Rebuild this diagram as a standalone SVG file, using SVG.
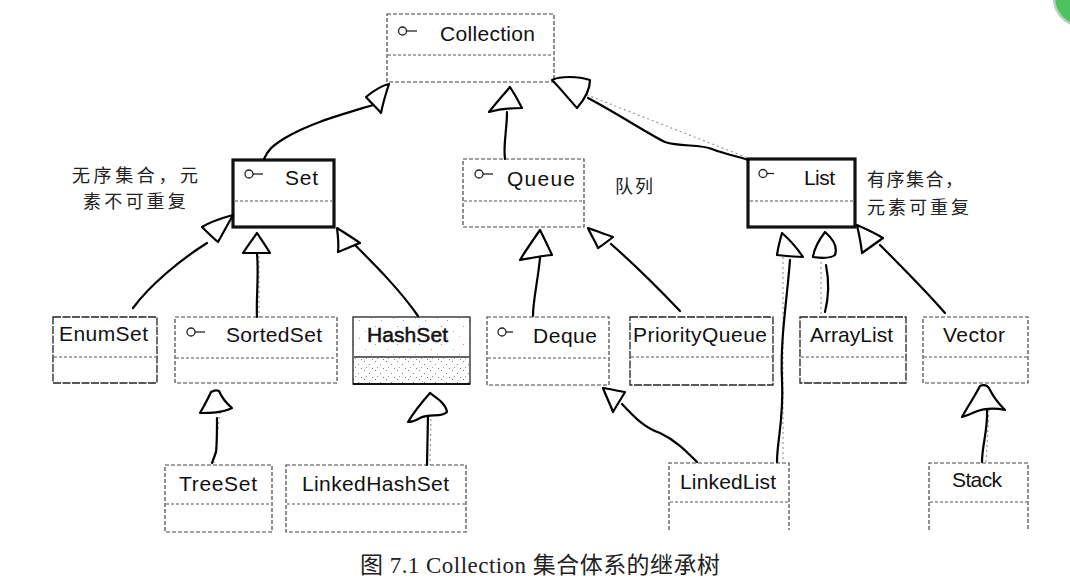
<svg xmlns="http://www.w3.org/2000/svg" width="1070" height="586" viewBox="0 0 1070 586">
<defs>
<pattern id="speck" width="22" height="18" patternUnits="userSpaceOnUse">
<rect x="1" y="2" width="1" height="1" fill="#999"/>
<rect x="13" y="7" width="1" height="1" fill="#aaa"/>
<rect x="7" y="14" width="1" height="1" fill="#999"/>
<rect x="19" y="12" width="1" height="1" fill="#bbb"/>
</pattern>
<pattern id="speck2" width="11" height="9" patternUnits="userSpaceOnUse">
<rect x="1" y="1" width="1" height="1" fill="#777"/>
<rect x="6" y="4" width="1" height="1" fill="#888"/>
<rect x="3" y="7" width="1" height="1" fill="#999"/>
<rect x="9" y="8" width="1" height="1" fill="#777"/>
</pattern>
</defs>
<style>
.box{fill:none;stroke:#444;stroke-width:1.2;stroke-dasharray:4 2}
.dark{fill:none;stroke:#222;stroke-width:1.3;stroke-dasharray:8 1.5}
.bold{fill:none;stroke:#111;stroke-width:3.2}
.div{stroke:#555;stroke-width:1.1;stroke-dasharray:3 2;fill:none}
.lbl{font-family:"Liberation Sans",Arial,sans-serif;font-size:21px;fill:#111}
.cn{font-family:"Noto Sans CJK SC",sans-serif;font-size:18px;fill:#222}
.icon{fill:none;stroke:#222;stroke-width:1.3}
.line{fill:none;stroke:#000;stroke-width:2.2;stroke-linecap:round;stroke-linejoin:round}
.head{fill:#fff;stroke:#000;stroke-width:2.2;stroke-linejoin:round}
.orig{fill:none;stroke:#999;stroke-width:1.2;stroke-dasharray:2 3}
</style>
<rect width="1070" height="586" fill="#fff"/>

<g id="Collection">
<rect class="box" x="387" y="14" width="167" height="68"/>
<line class="div" x1="388" y1="55" x2="553" y2="55"/>
<circle class="icon" cx="402.5" cy="31" r="4"/><line class="icon" x1="406.5" y1="31" x2="417" y2="31"/>
<text class="lbl" x="440" y="41" textLength="95">Collection</text>
</g>

<g id="Set">
<rect class="bold" x="233" y="160" width="101" height="67"/>
<line class="div" x1="235" y1="201" x2="332" y2="201"/>
<circle class="icon" cx="249" cy="174" r="4"/><line class="icon" x1="253" y1="174" x2="263" y2="174"/>
<text class="lbl" x="285" y="185" textLength="33">Set</text>
</g>

<g id="Queue">
<rect class="box" x="463" y="159" width="121" height="68"/>
<line class="div" x1="464" y1="201" x2="583" y2="201"/>
<circle class="icon" cx="479" cy="174" r="4"/><line class="icon" x1="483" y1="174" x2="493" y2="174"/>
<text class="lbl" x="507" y="186" textLength="68">Queue</text>
</g>

<g id="List">
<rect class="bold" x="748" y="159" width="107" height="68"/>
<line class="div" x1="750" y1="201" x2="853" y2="201"/>
<circle class="icon" cx="763" cy="173.5" r="4"/><line class="icon" x1="767" y1="173.5" x2="774" y2="173.5"/>
<text class="lbl" x="804" y="185" textLength="31">List</text>
</g>

<g id="EnumSet">
<rect class="dark" x="53" y="317" width="104" height="66"/>
<line class="div" x1="54" y1="357" x2="156" y2="357"/>
<text class="lbl" x="59" y="341" textLength="89">EnumSet</text>
</g>

<g id="SortedSet">
<rect class="box" x="175" y="317" width="162" height="66"/>
<line class="div" x1="176" y1="358" x2="336" y2="358"/>
<circle class="icon" cx="191" cy="332" r="4"/><line class="icon" x1="195" y1="332" x2="205" y2="332"/>
<text class="lbl" x="226" y="342" textLength="96">SortedSet</text>
</g>

<g id="HashSet">
<rect x="353" y="317" width="117" height="40" fill="url(#speck)"/>
<rect x="353" y="357" width="117" height="27" fill="url(#speck2)"/>
<rect x="353" y="317" width="117" height="67" fill="none" stroke="#222" stroke-width="1.3"/>
<line x1="353" y1="384" x2="470" y2="384" stroke="#111" stroke-width="2.2"/>
<line x1="354" y1="357" x2="469" y2="357" stroke="#333" stroke-width="1.3"/>
<text class="lbl" x="367" y="342" textLength="81" style="stroke:#111;stroke-width:0.5">HashSet</text>
</g>

<g id="Deque">
<rect class="box" x="487" y="317" width="122" height="68"/>
<line class="div" x1="488" y1="358" x2="608" y2="358"/>
<circle class="icon" cx="502" cy="332" r="4"/><line class="icon" x1="506" y1="332" x2="513" y2="332"/>
<text class="lbl" x="533" y="343" textLength="64">Deque</text>
</g>

<g id="PriorityQueue">
<rect class="dark" x="630" y="317" width="143" height="68"/>
<line class="div" x1="631" y1="357" x2="772" y2="357"/>
<text class="lbl" x="633" y="342" textLength="134">PriorityQueue</text>
</g>

<g id="ArrayList">
<rect class="dark" x="800" y="317" width="106" height="66"/>
<line class="div" x1="801" y1="357" x2="905" y2="357"/>
<text class="lbl" x="810" y="342" textLength="83">ArrayList</text>
</g>

<g id="Vector">
<rect class="box" x="923" y="317" width="105" height="66"/>
<line class="div" x1="924" y1="357" x2="1027" y2="357"/>
<text class="lbl" x="943" y="342" textLength="62">Vector</text>
</g>

<g id="TreeSet">
<rect class="box" x="165" y="465" width="107" height="67"/>
<line class="div" x1="166" y1="504" x2="271" y2="504"/>
<text class="lbl" x="179" y="491" textLength="78">TreeSet</text>
</g>

<g id="LinkedHashSet">
<rect class="box" x="286" y="465" width="180" height="67"/>
<line class="div" x1="287" y1="504" x2="465" y2="504"/>
<text class="lbl" x="302" y="491" textLength="147">LinkedHashSet</text>
</g>

<g id="LinkedList">
<path class="box" d="M669,530 V463 H789 V530"/>
<line class="div" x1="670" y1="502" x2="788" y2="502"/>
<text class="lbl" x="680" y="489" textLength="96">LinkedList</text>
</g>

<g id="Stack">
<path class="box" d="M929,530 V463 H1028 V530"/>
<line class="div" x1="930" y1="502" x2="1027" y2="502"/>
<text class="lbl" x="952" y="487" textLength="50">Stack</text>
</g>

<g id="connectors">
<path class="orig" d="M554,82 L748,158"/>
<path class="orig" d="M259,256 L259,317"/>
<path class="orig" d="M783,257 L783,462"/>
<path class="orig" d="M821,262 L821,317"/>
<path class="orig" d="M989,410 L986,462"/>
<path class="orig" d="M220,412 L214,463"/>
<path class="orig" d="M431,414 L430,465"/>

<path class="line" d="M264,159 C268,150 272,146 285,138 C310,123 340,115 373,105"/>
<path class="head" d="M389,84 C380,86 372,92 366,97 C372,104 377,108 381,113 C383,103 386,93 389,84 Z"/>

<path class="line" d="M507,112 C507,130 503,145 505,159"/>
<path class="head" d="M510,87 C503,95 495,104 489,112 C500,109 511,108 522,108 C518,100 514,93 510,87 Z"/>

<path class="line" d="M588,98 C620,115 650,135 665,142 C680,147 700,144 712,149 C727,155 738,156 748,160"/>
<path class="head" d="M552,80 C560,76 578,76 590,80 C590,90 584,100 577,108 C568,98 560,88 552,80 Z"/>

<path class="line" d="M133,308 C150,285 180,260 207,243"/>
<path class="head" d="M233,215 C222,218 210,222 202,227 C207,232 213,238 218,242 C223,233 228,224 233,215 Z"/>

<path class="line" d="M257,254 C259,275 256,300 257,317"/>
<path class="head" d="M257,233 C252,240 247,247 243,253 L270,253 C266,246 261,239 257,233 Z"/>

<path class="line" d="M356,246 C375,265 400,290 418,316"/>
<path class="head" d="M337,228 C345,233 353,238 360,243 C353,246 345,249 338,252 C339,244 338,236 337,228 Z"/>

<path class="line" d="M217,418 C217,430 217,445 216,452 L212,463"/>
<path class="head" d="M211,392 C214,390 217,390 219,391 C222,398 226,403 232,408 C222,413 210,413 200,413 C204,406 208,399 211,392 Z"/>

<path class="line" d="M428,415 L427,465"/>
<path class="head" d="M430,393 C437,398 446,404 447,412 C441,418 430,413 420,418 C415,421 410,422 408,422 C414,412 422,402 430,393 Z"/>

<path class="line" d="M540,258 C538,280 533,300 533,316"/>
<path class="head" d="M540,230 C533,240 526,250 520,260 C531,258 541,256 552,255 C548,246 544,238 540,230 Z"/>

<path class="line" d="M611,244 C635,265 660,290 680,311"/>
<path class="head" d="M588,228 C596,231 605,234 613,237 C608,241 603,245 598,248 C595,241 591,235 588,228 Z"/>

<path class="line" d="M622,404 C635,418 645,428 660,433 C675,440 685,450 697,462"/>
<path class="head" d="M603,388 C610,389 618,391 625,392 C621,399 617,405 613,412 C610,404 606,396 603,388 Z"/>

<path class="line" d="M790,260 C787,300 780,340 782,380 C784,420 777,440 777,462"/>
<path class="head" d="M782,233 C780,240 778,248 777,255 C786,256 794,257 803,257 C797,248 790,240 782,233 Z"/>

<path class="line" d="M826,265 C830,285 828,300 825,312"/>
<path class="head" d="M825,232 C819,240 814,248 813,257 C820,258 830,259 835,255 C838,246 832,238 825,232 Z"/>

<path class="line" d="M880,245 C900,265 925,290 945,313"/>
<path class="head" d="M857,225 C866,229 875,233 883,238 C876,243 869,248 862,253 C861,243 859,234 857,225 Z"/>

<path class="line" d="M987,410 C988,430 982,445 982,462"/>
<path class="head" d="M980,386 C985,384 988,386 990,390 C994,398 999,404 1005,410 C995,408 985,408 975,412 C970,414 966,416 962,417 C968,406 975,396 980,386 Z"/>
</g>

<g id="notes">
<text class="cn" x="72" y="182" letter-spacing="3.6">无序集合，元</text>
<text class="cn" x="83" y="208" letter-spacing="3.2">素不可重复</text>
<text class="cn" x="615" y="193" letter-spacing="2">队列</text>
<text class="cn" x="867" y="186" letter-spacing="1.5">有序集合，</text>
<text class="cn" x="867" y="214" letter-spacing="3">元素可重复</text>
</g>

<text x="360" y="573" textLength="360" font-family="'Liberation Serif','Noto Sans CJK SC',serif" font-size="23" fill="#222">图 7.1 Collection 集合体系的继承树</text>

<circle cx="1082" cy="-2" r="28" fill="#4cc35c" stroke="#c8c8c8" stroke-width="2.5"/>
</svg>
